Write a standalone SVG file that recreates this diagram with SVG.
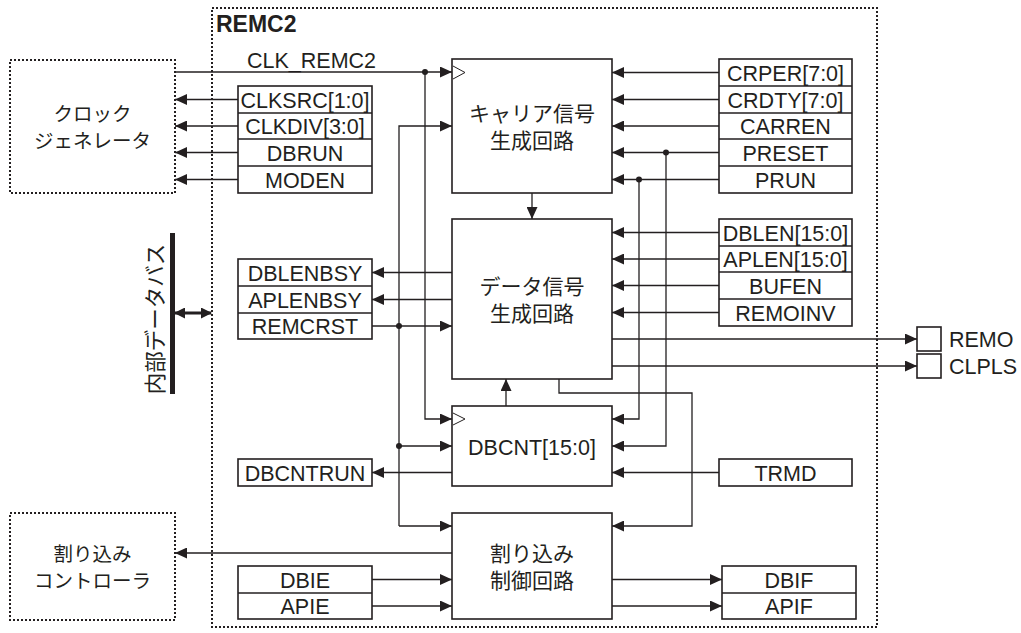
<svg xmlns="http://www.w3.org/2000/svg" width="1021" height="633" viewBox="0 0 1021 633">
<defs>
<marker id="ah" markerWidth="12" markerHeight="11" refX="12" refY="5.5" orient="auto" markerUnits="userSpaceOnUse"><path d="M0,0 L12,5.5 L0,11 Z" fill="#231f20"/></marker>
<marker id="bh" markerWidth="11" markerHeight="11" refX="10" refY="5.5" orient="auto-start-reverse" markerUnits="userSpaceOnUse"><path d="M0,0 L11,5.5 L0,11 Z" fill="#231f20"/></marker>
</defs>
<style>
.t{font-family:"Liberation Sans",Arial,"Noto Sans CJK JP",sans-serif;font-size:21.5px;fill:#231f20;text-anchor:middle}
.j{font-family:"Noto Sans CJK JP","Liberation Sans",sans-serif;font-size:21px;fill:#231f20;text-anchor:middle}
.k{font-family:"Noto Sans CJK JP","Liberation Sans",sans-serif;font-size:19.5px;fill:#231f20;text-anchor:middle}
.l{font-family:"Liberation Sans",Arial,sans-serif;font-size:21.5px;fill:#231f20}
.b{fill:#fff;stroke:#231f20;stroke-width:1.6}
.r{fill:none;stroke:#231f20;stroke-width:1.4}
.d{fill:none;stroke:#231f20;stroke-width:2;stroke-dasharray:2 2}
.c{fill:none;stroke:#231f20;stroke-width:1.3}
.a{marker-end:url(#ah)}
.dot{fill:#231f20}
</style>
<rect width="1021" height="633" fill="#fff"/>

<g id="remc2">
<rect class="d" x="212" y="8" width="665" height="619"/>
<text x="216" y="31.5" style="font-family:'Liberation Sans',Arial,sans-serif;font-size:23px;font-weight:bold;fill:#231f20">REMC2</text>
</g>

<g id="connectors">
<path class="c a" d="M175,72 H452"/>
<path class="c a" d="M425,72 V419 H452"/>
<circle class="dot" cx="425" cy="72" r="3"/>
<text class="l" x="247" y="67.5">CLK_REMC2</text>
<path class="c a" d="M238,99.5 H175"/>
<path class="c a" d="M238,126 H175"/>
<path class="c a" d="M238,152.5 H175"/>
<path class="c a" d="M238,179.5 H175"/>
<path class="c a" d="M372,326 H452"/>
<path class="c a" d="M399,526 V126 H452"/>
<path class="c a" d="M399,446 H452"/>
<path class="c a" d="M399,526 H452"/>
<circle class="dot" cx="399" cy="326" r="3"/>
<circle class="dot" cx="399" cy="446" r="3"/>
<path class="c a" d="M452,272.5 H372"/>
<path class="c a" d="M452,299.5 H372"/>
<path class="c a" d="M532,193 V219"/>
<path class="c a" d="M506,406 V379"/>
<path class="c a" d="M719,72.5 H612"/>
<path class="c a" d="M719,99.5 H612"/>
<path class="c a" d="M719,126 H612"/>
<path class="c a" d="M719,152.5 H612"/>
<path class="c a" d="M719,179.5 H612"/>
<path class="c a" d="M666,152.5 V446 H612"/>
<path class="c a" d="M639,179.5 V419 H612"/>
<circle class="dot" cx="666" cy="152.5" r="3"/>
<circle class="dot" cx="639" cy="179.5" r="3"/>
<path class="c a" d="M719,232.5 H612"/>
<path class="c a" d="M719,259 H612"/>
<path class="c a" d="M719,285.5 H612"/>
<path class="c a" d="M719,312.5 H612"/>
<path class="c a" d="M612,339 H917"/>
<path class="c a" d="M612,366 H917"/>
<path class="c a" d="M559,379 V393 H692 V526 H612"/>
<path class="c a" d="M719,472.5 H612"/>
<path class="c a" d="M452,472.5 H372"/>
<path class="c a" d="M452,553 H175"/>
<path class="c a" d="M372,579.5 H452"/>
<path class="c a" d="M372,606 H452"/>
<path class="c a" d="M612,579.5 H722"/>
<path class="c a" d="M612,606 H722"/>
<path d="M175,313 H211" stroke="#231f20" stroke-width="3" fill="none" marker-start="url(#bh)" marker-end="url(#bh)"/>
</g>

<g id="bus">
<rect x="170" y="233" width="5" height="161" fill="#231f20"/>
<text class="j" transform="rotate(-90 155 319)" x="155" y="327" style="font-size:21.5px">内部データバス</text>
</g>

<g id="clockgen">
<rect class="d" x="10" y="60" width="165" height="133" stroke-width="1.4"/>
<text class="k" x="92.5" y="121">クロック</text>
<text class="k" x="92.5" y="148">ジェネレータ</text>
</g>

<g id="intctrl">
<rect class="d" x="10" y="513" width="165" height="107" stroke-width="1.4"/>
<text class="k" x="92.5" y="561">割り込み</text>
<text class="k" x="92.5" y="588">コントローラ</text>
</g>

<g id="clkregs">
<rect class="b" x="238" y="86" width="134" height="107"/>
<path class="r" d="M238,113 H372 M238,139 H372 M238,166 H372"/>
<text class="t" x="305" y="107.5">CLKSRC[1:0]</text>
<text class="t" x="305" y="134">CLKDIV[3:0]</text>
<text class="t" x="305" y="160.5">DBRUN</text>
<text class="t" x="305" y="187.5">MODEN</text>
</g>

<g id="carrier">
<rect class="b" x="452" y="59" width="160" height="134"/>
<path d="M453,66 L465,72.5 L453,79" fill="none" stroke="#231f20" stroke-width="1"/>
<text class="j" x="532" y="121">キャリア信号</text>
<text class="j" x="532" y="148">生成回路</text>
</g>

<g id="carrierregs">
<rect class="b" x="719" y="59" width="133" height="134"/>
<path class="r" d="M719,86 H852 M719,113 H852 M719,139 H852 M719,166 H852"/>
<text class="t" x="785.5" y="80.5">CRPER[7:0]</text>
<text class="t" x="785.5" y="107.5">CRDTY[7:0]</text>
<text class="t" x="785.5" y="134">CARREN</text>
<text class="t" x="785.5" y="160.5">PRESET</text>
<text class="t" x="785.5" y="187.5">PRUN</text>
</g>

<g id="data">
<rect class="b" x="452" y="219" width="160" height="160"/>
<text class="j" x="532" y="294">データ信号</text>
<text class="j" x="532" y="321">生成回路</text>
</g>

<g id="dataleftregs">
<rect class="b" x="238" y="259" width="134" height="80"/>
<path class="r" d="M238,286 H372 M238,313 H372"/>
<text class="t" x="305" y="280.5">DBLENBSY</text>
<text class="t" x="305" y="307.5">APLENBSY</text>
<text class="t" x="305" y="334">REMCRST</text>
</g>

<g id="datarightregs">
<rect class="b" x="719" y="219" width="133" height="107"/>
<path class="r" d="M719,246 H852 M719,272 H852 M719,299 H852"/>
<text class="t" x="785.5" y="240.5">DBLEN[15:0]</text>
<text class="t" x="785.5" y="267">APLEN[15:0]</text>
<text class="t" x="785.5" y="293.5">BUFEN</text>
<text class="t" x="785.5" y="320.5">REMOINV</text>
</g>

<g id="pins">
<rect class="b" x="917" y="327" width="24" height="24" stroke-width="1.2"/>
<rect class="b" x="917" y="354" width="24" height="24" stroke-width="1.2"/>
<text class="l" x="949" y="347">REMO</text>
<text class="l" x="949" y="374">CLPLS</text>
</g>

<g id="dbcnt">
<rect class="b" x="452" y="406" width="160" height="80"/>
<path d="M453,413 L465,419 L453,425" fill="none" stroke="#231f20" stroke-width="1"/>
<text class="t" x="532" y="454.5">DBCNT[15:0]</text>
</g>

<g id="dbcntrun">
<rect class="b" x="238" y="459" width="134" height="27"/>
<text class="t" x="305" y="480.5">DBCNTRUN</text>
</g>

<g id="trmd">
<rect class="b" x="719" y="459" width="133" height="27"/>
<text class="t" x="785.5" y="480.5">TRMD</text>
</g>

<g id="intblock">
<rect class="b" x="452" y="513" width="160" height="106"/>
<text class="j" x="532" y="561">割り込み</text>
<text class="j" x="532" y="587.5">制御回路</text>
</g>

<g id="ieregs">
<rect class="b" x="238" y="566" width="134" height="53"/>
<path class="r" d="M238,593 H372"/>
<text class="t" x="305" y="587.5">DBIE</text>
<text class="t" x="305" y="614">APIE</text>
</g>

<g id="ifregs">
<rect class="b" x="722" y="566" width="134" height="53"/>
<path class="r" d="M722,593 H856"/>
<text class="t" x="789" y="587.5">DBIF</text>
<text class="t" x="789" y="614">APIF</text>
</g>
</svg>
